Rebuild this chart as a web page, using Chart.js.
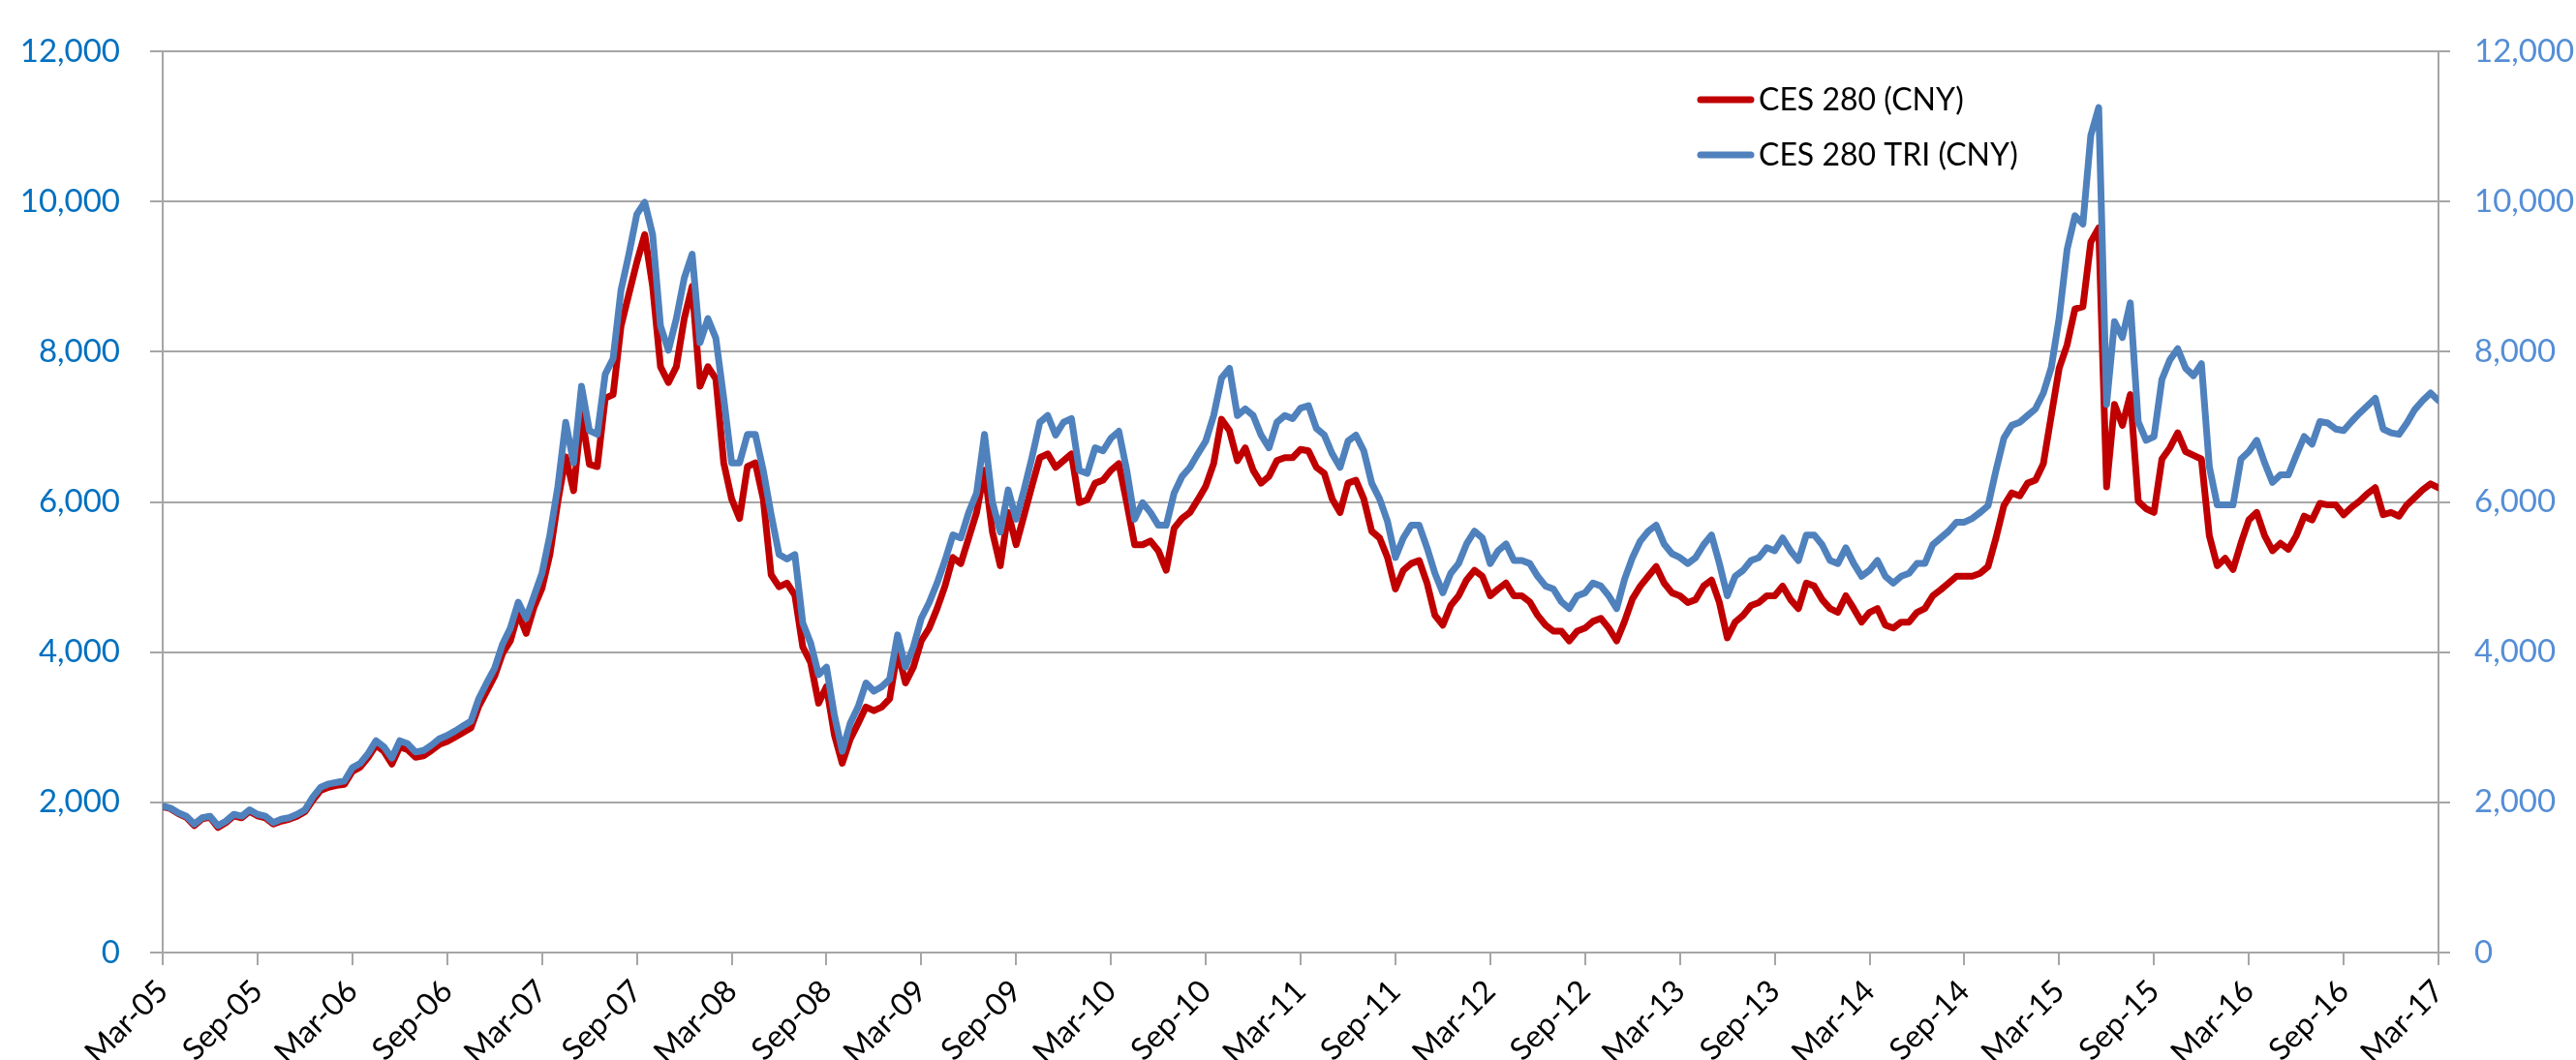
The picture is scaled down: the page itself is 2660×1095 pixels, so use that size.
<!DOCTYPE html>
<html>
<head>
<meta charset="utf-8">
<script src="https://cdn.jsdelivr.net/npm/chart.js@4.4.0/dist/chart.umd.min.js"></script>
<style>
  html, body { margin: 0; padding: 0; background: #fff; }
  #wrap { width: 2660px; height: 1095px; }
</style>
</head>
<body>
<div id="wrap"><canvas id="grafico" width="2660" height="1095"></canvas></div>
<script>
  // x labels, one every 6 months starting Mar-05
  const rotulosX = [
    "Mar-05", "Sep-05", "Mar-06", "Sep-06", "Mar-07", "Sep-07", "Mar-08", "Sep-08",
    "Mar-09", "Sep-09", "Mar-10", "Sep-10", "Mar-11", "Sep-11", "Mar-12", "Sep-12",
    "Mar-13", "Sep-13", "Mar-14", "Sep-14", "Mar-15", "Sep-15", "Mar-16", "Sep-16", "Mar-17",
  ];
  const ticksY = [0, 2000, 4000, 6000, 8000, 10000, 12000];
  const nomes = ["CES 280 (CNY)", "CES 280 TRI (CNY)"];

  // values every half month (index 0 = Mar-05)
  const ces280 = [
    // Mar-05 .. Mar-07
    1940, 1915, 1850, 1800, 1690, 1780, 1800, 1665, 1730, 1820, 1795, 1880, 1820, 1795, 1710, 1750,
    1775, 1815, 1875, 2030, 2160, 2200, 2225, 2240, 2410, 2470, 2600, 2760, 2680, 2510, 2740, 2700,
    2600, 2620, 2690, 2770, 2810, 2870, 2930, 2990, 3280, 3480, 3680, 3980, 4150, 4520, 4250, 4600, 4850,
    // .. Mar-09
    5300, 6000, 6600, 6150, 7170, 6500, 6470, 7380, 7430, 8340, 8770, 9190, 9560, 8870, 7800, 7590,
    7800, 8440, 8870, 7540, 7800, 7640, 6520, 6040, 5780, 6470, 6520, 6040, 5030, 4870, 4920, 4760,
    4070, 3860, 3320, 3540, 2900, 2520, 2840, 3050, 3270, 3220, 3270, 3380, 4020, 3590, 3800, 4150,
    // .. Mar-11
    4320, 4580, 4880, 5260, 5180, 5520, 5860, 6420, 5600, 5150, 5860, 5430, 5820, 6210, 6590, 6640,
    6460, 6550, 6640, 5990, 6030, 6250, 6290, 6420, 6510, 5990, 5430, 5430, 5480, 5350, 5090, 5650,
    5780, 5860, 6030, 6210, 6510, 7100, 6950, 6550, 6720, 6420, 6250, 6340, 6550, 6590, 6590, 6700,
    // .. Mar-13
    6680, 6460, 6380, 6040, 5860, 6250, 6290, 6040, 5610, 5520, 5260, 4840, 5090, 5180, 5220, 4920,
    4490, 4360, 4620, 4750, 4960, 5090, 5010, 4750, 4840, 4920, 4750, 4750, 4670, 4490, 4360, 4280,
    4280, 4150, 4280, 4320, 4410, 4450, 4320, 4150, 4410, 4710, 4880, 5010, 5140, 4920, 4790, 4750,
    // .. Mar-15
    4660, 4700, 4880, 4960, 4660, 4190, 4400, 4490, 4620, 4660, 4750, 4750, 4880, 4700, 4580, 4920,
    4880, 4700, 4580, 4530, 4750, 4580, 4400, 4530, 4580, 4360, 4320, 4400, 4400, 4530, 4580, 4750,
    4830, 4920, 5010, 5010, 5010, 5050, 5140, 5520, 5950, 6120, 6080, 6250, 6290, 6510, 7150, 7780,
    // .. Mar-17
    8090, 8570, 8600, 9460, 9650, 6200, 7300, 7020, 7430, 6010, 5910, 5860, 6570, 6720, 6920, 6670,
    6620, 6570, 5550, 5150, 5250, 5100, 5450, 5760, 5860, 5550, 5350, 5450, 5370, 5550, 5810, 5760,
    5980, 5960, 5960, 5830, 5930, 6010, 6110, 6190, 5830, 5860, 5810, 5960, 6060, 6160, 6240, 6190,
  ];

  const ces280Tri = [
    // Mar-05 .. Mar-07
    1950, 1923, 1860, 1815, 1710, 1795, 1815, 1690, 1750, 1840, 1815, 1900, 1840, 1815, 1730, 1775,
    1795, 1840, 1900, 2070, 2200, 2245, 2265, 2285, 2460, 2520, 2650, 2820, 2740, 2590, 2820, 2780,
    2670, 2690, 2760, 2845, 2890, 2950, 3015, 3080, 3380, 3590, 3785, 4105, 4320, 4665, 4450, 4750, 5050,
    // .. Mar-09
    5560, 6200, 7060, 6520, 7540, 6950, 6900, 7700, 7910, 8820, 9300, 9830, 9990, 9560, 8340, 8020,
    8440, 8980, 9300, 8120, 8440, 8180, 7380, 6520, 6520, 6900, 6900, 6420, 5830, 5300, 5240, 5300,
    4390, 4120, 3700, 3800, 3160, 2680, 3050, 3270, 3590, 3480, 3540, 3640, 4230, 3800, 4070, 4450,
    // .. Mar-11
    4660, 4920, 5220, 5560, 5520, 5860, 6120, 6900, 6000, 5600, 6160, 5770, 6160, 6590, 7060, 7150,
    6890, 7060, 7110, 6420, 6380, 6720, 6680, 6850, 6940, 6420, 5770, 5990, 5860, 5690, 5690, 6120,
    6340, 6460, 6640, 6810, 7150, 7650, 7780, 7150, 7240, 7150, 6890, 6720, 7060, 7150, 7110, 7250,
    // .. Mar-13
    7280, 6980, 6890, 6640, 6460, 6810, 6890, 6680, 6250, 6040, 5740, 5260, 5520, 5690, 5690, 5390,
    5050, 4790, 5050, 5180, 5440, 5610, 5520, 5180, 5350, 5440, 5220, 5220, 5180, 5010, 4880, 4840,
    4670, 4580, 4750, 4790, 4920, 4880, 4750, 4580, 4970, 5260, 5480, 5610, 5690, 5440, 5310, 5260,
    // .. Mar-15
    5180, 5260, 5430, 5560, 5180, 4750, 5010, 5090, 5220, 5260, 5390, 5350, 5520, 5350, 5220, 5560,
    5560, 5430, 5220, 5180, 5390, 5180, 5010, 5090, 5220, 5010, 4920, 5010, 5050, 5180, 5180, 5430,
    5520, 5610, 5730, 5730, 5780, 5860, 5950, 6420, 6850, 7020, 7060, 7150, 7240, 7450, 7790, 8450,
    // .. Mar-17
    9360, 9810, 9700, 10880, 11250, 7300, 8400, 8190, 8650, 7070, 6820, 6870, 7630, 7890, 8040, 7780,
    7680, 7840, 6470, 5960, 5960, 5960, 6570, 6670, 6820, 6520, 6260, 6360, 6360, 6620, 6870, 6770,
    7070, 7050, 6970, 6950, 7070, 7180, 7280, 7380, 6970, 6920, 6900, 7050, 7230, 7350, 7450, 7350,
  ];

  const FONTE = "Lato, 'Open Sans', sans-serif";
  const CINZA = "#a6a6a6";

  // x = months since Mar-05
  const pontos = (serie) => serie.map((v, i) => ({ x: i * 0.5, y: v }));

  // legend drawn at the same place as the Excel one, inside the plot
  const legendaPlugin = {
    id: "legenda",
    afterDraw(chart) {
      const ctx = chart.ctx;
      ctx.save();
      chart.data.datasets.forEach((ds, i) => {
        const y = 103 + i * 57;
        ctx.strokeStyle = ds.borderColor;
        ctx.lineWidth = 7;
        ctx.lineCap = "round";
        ctx.beginPath();
        ctx.moveTo(1756, y);
        ctx.lineTo(1808, y);
        ctx.stroke();
        ctx.fillStyle = "#000";
        ctx.font = "32px " + FONTE;
        ctx.textBaseline = "middle";
        ctx.textAlign = "left";
        ctx.fillText(ds.label, 1816, y + 1);
      });
      ctx.restore();
    },
  };

  const formatar = (v) => Number(v).toLocaleString("en-US");

  const config = {
    type: "line",
    data: {
      datasets: [
        {
          label: nomes[0],
          data: pontos(ces280),
          borderColor: "#c00000",
          backgroundColor: "#c00000",
          borderWidth: 7,
          yAxisID: "y",
          order: 1,
        },
        {
          label: nomes[1],
          data: pontos(ces280Tri),
          borderColor: "#4f81bd",
          backgroundColor: "#4f81bd",
          borderWidth: 7,
          yAxisID: "y2",
          order: 0,
        },
      ],
    },
    options: {
      responsive: false,
      animation: false,
      layout: { padding: { top: 53, left: 0, right: 0, bottom: 0 } },
      elements: {
        point: { radius: 0 },
        line: { tension: 0, borderJoinStyle: "round", borderCapStyle: "round" },
      },
      plugins: {
        legend: { display: false },
        tooltip: { enabled: false },
      },
      scales: {
        x: {
          type: "linear",
          min: 0,
          max: 144,
          afterFit: (s) => { s.height = 111; },
          ticks: {
            stepSize: 6,
            autoSkip: false,
            maxRotation: 45,
            minRotation: 45,
            padding: 8,
            color: "#000",
            font: { family: FONTE, size: 32 },
            callback: (v) => rotulosX[Math.round(v / 6)] ?? "",
          },
          grid: { drawOnChartArea: false, drawTicks: true, tickLength: 13, color: CINZA, lineWidth: 2 },
          border: { display: true, color: CINZA, width: 2 },
        },
        y: {
          position: "left",
          min: ticksY[0],
          max: ticksY[ticksY.length - 1],
          afterFit: (s) => { s.width = 168; },
          afterBuildTicks: (s) => { s.ticks = ticksY.map((v) => ({ value: v })); },
          ticks: {
            padding: 31,
            color: "#0070c0",
            font: { family: FONTE, size: 33 },
            callback: formatar,
          },
          grid: { color: CINZA, lineWidth: 2, tickLength: 13 },
          border: { display: true, color: CINZA, width: 2 },
        },
        y2: {
          position: "right",
          min: ticksY[0],
          max: ticksY[ticksY.length - 1],
          afterFit: (s) => { s.width = 142; },
          afterBuildTicks: (s) => { s.ticks = ticksY.map((v) => ({ value: v })); },
          ticks: {
            padding: 25,
            color: "#558ed5",
            font: { family: FONTE, size: 33 },
            callback: formatar,
          },
          grid: { drawOnChartArea: false, color: CINZA, lineWidth: 2, tickLength: 12 },
          border: { display: true, color: CINZA, width: 2 },
        },
      },
    },
    plugins: [legendaPlugin],
  };

  const grafico = new Chart(document.getElementById("grafico"), config);
</script>
</body>
</html>
